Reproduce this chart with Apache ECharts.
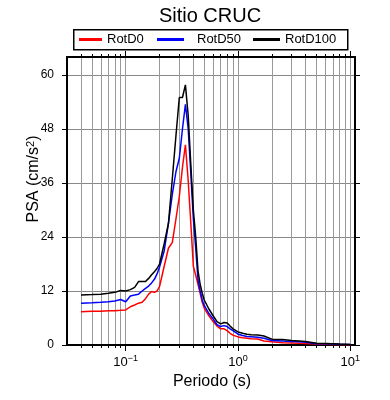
<!DOCTYPE html>
<html>
<head>
<meta charset="utf-8">
<script src="https://cdn.jsdelivr.net/npm/echarts@6/dist/echarts.min.js"></script>
<style>
html,body{margin:0;padding:0;background:#fff;}
#chart{width:390px;height:400px;}
</style>
</head>
<body>
<div id="chart"></div>
<script>
// Periods (s)
const periods = [0.04,0.05,0.06,0.07,0.08,0.09,0.1,0.11,0.12,0.13,0.14,0.15,0.16,0.17,0.18,0.19,0.2,0.22,0.24,0.26,0.28,0.30,0.32,0.34,0.36,0.38,0.40,0.42,0.44,0.46,0.48,0.5,0.55,0.6,0.65,0.7,0.75,0.8,0.85,0.9,1.0,1.1,1.2,1.3,1.5,1.7,2.0,2.5,3.0,3.5,4.0,5.0,6.0,7.0,8.0,10];
// PSA values (cm/s^2)
const rotD0 = [7.4,7.5,7.5,7.6,7.6,7.7,7.8,8.5,8.9,9.3,9.5,10.3,11.3,11.9,11.7,12.0,13.0,17.5,21.5,22.8,28,33,39.5,44.5,36.5,27,17.5,15.5,13.5,11.5,9.5,8.2,6.5,5.2,4.2,3.6,3.6,3.2,2.6,2.2,1.8,1.6,1.5,1.4,1.35,0.9,0.7,0.5,0.45,0.4,0.35,0.2,0.15,0.12,0.1,0.05];
const rotD50 = [9.3,9.4,9.5,9.6,9.8,10.1,9.6,10.9,11.1,11.3,12.0,12.6,13.1,13.8,14.6,15.8,17.3,20.9,27,33.5,38.5,41.5,48.0,53.5,48,38,28,21.5,14.5,12.0,10.0,8.8,7.0,5.8,4.5,4.1,4.3,4.1,3.6,3.2,2.4,2.1,1.9,1.85,1.7,1.5,1.0,0.9,0.75,0.7,0.6,0.3,0.25,0.2,0.15,0.1];
const rotD100 = [11.1,11.2,11.3,11.5,11.7,12.1,12.0,12.3,12.8,14.1,14.1,14.1,14.8,15.6,16.3,17.0,18.0,22.5,27.0,37,46.5,55,55.0,57.8,51,40,30,24,16.5,13.5,11.5,10,8.0,6.5,5.2,4.7,5.0,4.9,4.2,3.6,2.9,2.6,2.4,2.3,2.2,2.0,1.3,1.2,1.0,0.9,0.8,0.4,0.35,0.3,0.2,0.1];
// Axis ticks
const xMajorTicks = [0.1, 1, 10];
const xMinorTicks = [0.04,0.05,0.06,0.07,0.08,0.09,0.1,0.2,0.3,0.4,0.5,0.6,0.7,0.8,0.9,1,2,3,4,5,6,7,8,9,10];
const yTicks = [0, 12, 24, 36, 48, 60];

const FONT = '"Liberation Sans", Arial, Helvetica, sans-serif';
const chart = echarts.init(document.getElementById('chart'), null, {renderer: 'canvas'});

function pair(a) { return periods.map((p, i) => [p, a[i]]); }
function xAxisBase(pos) {
  return {type: 'log', logBase: 10, min: 0.03, max: 11, position: pos, gridIndex: 0};
}
const supMap = {'-1': '\u22121', '0': '0', '1': '1'};

const option = {
  animation: false,
  backgroundColor: '#fff',
  grid: {left: 67, top: 57, width: 288, height: 288, containLabel: false},
  legend: [
    {data: ['RotD0'], left: 79, top: 33, padding: 0, icon: 'rect', itemWidth: 23, itemHeight: 3,
     textStyle: {fontSize: 13, fontFamily: FONT, color: '#000'}},
    {data: ['RotD50'], left: 157, top: 33, padding: 0, icon: 'rect', itemWidth: 27, itemHeight: 3,
     textStyle: {fontSize: 13, fontFamily: FONT, color: '#000', padding: [0,0,0,8]}},
    {data: ['RotD100'], left: 253, top: 33, padding: 0, icon: 'rect', itemWidth: 27, itemHeight: 3,
     textStyle: {fontSize: 13, fontFamily: FONT, color: '#000'}}
  ],
  xAxis: [
    Object.assign(xAxisBase('bottom'), {
      axisLine: {show: true, lineStyle: {color: '#000', width: 2}},
      axisTick: {show: true, inside: false, length: 6, lineStyle: {color: '#000', width: 1}, customValues: xMajorTicks},
      axisLabel: {show: true, margin: 9, customValues: xMajorTicks,
        formatter: function (v) { const e = Math.round(Math.log10(v)); return '{b|10}{s|' + supMap[String(e)] + '}'; },
        rich: {b: {fontSize: 13, fontFamily: FONT, color: '#000'}, s: {fontSize: 9, fontFamily: FONT, color: '#000', verticalAlign: 'top', padding: [0,0,8,0]}}},
      splitLine: {show: false}
    }),
    Object.assign(xAxisBase('bottom'), {
      axisLine: {show: false},
      axisTick: {show: true, inside: false, length: 3, lineStyle: {color: '#000', width: 1}, customValues: xMinorTicks},
      axisLabel: {show: false},
      splitLine: {show: true, lineStyle: {color: '#999', width: 1}}
    }),
    Object.assign(xAxisBase('top'), {
      axisLine: {show: true, lineStyle: {color: '#000', width: 2}},
      axisTick: {show: true, inside: false, length: 6, lineStyle: {color: '#000', width: 1}, customValues: xMajorTicks},
      axisLabel: {show: false},
      splitLine: {show: false}
    }),
    Object.assign(xAxisBase('top'), {
      axisLine: {show: false},
      axisTick: {show: true, inside: false, length: 3, lineStyle: {color: '#000', width: 1}, customValues: xMinorTicks},
      axisLabel: {show: false},
      splitLine: {show: false}
    })
  ],
  yAxis: [
    {type: 'value', min: 0, max: 64, position: 'left',
     axisLine: {show: true, lineStyle: {color: '#000', width: 2}},
     axisTick: {show: true, inside: false, length: 5, lineStyle: {color: '#000'}, customValues: yTicks},
     axisLabel: {show: true, margin: 13, customValues: yTicks, fontSize: 12, fontFamily: FONT, color: '#000'},
     splitLine: {show: true, lineStyle: {color: '#888', width: 1}}},
    {type: 'value', min: 0, max: 64, position: 'right',
     axisLine: {show: true, lineStyle: {color: '#000', width: 2}},
     axisTick: {show: true, inside: false, length: 5, lineStyle: {color: '#000'}, customValues: yTicks},
     axisLabel: {show: false},
     splitLine: {show: false}}
  ],
  series: [
    {name: 'RotD0', type: 'line', data: pair(rotD0), showSymbol: false, symbol: 'none', color: '#ff0000',
     lineStyle: {color: '#ff0000', width: 1.5}, z: 3},
    {name: 'RotD50', type: 'line', data: pair(rotD50), showSymbol: false, symbol: 'none', color: '#0000ff',
     lineStyle: {color: '#0000ff', width: 1.5}, z: 4},
    {name: 'RotD100', type: 'line', data: pair(rotD100), showSymbol: false, symbol: 'none', color: '#000000',
     lineStyle: {color: '#000000', width: 1.5}, z: 5}
  ],
  graphic: [
    {type: 'rect', left: 73, top: 29, z: -1, shape: {width: 274, height: 20},
     style: {fill: '#fff', stroke: '#000', lineWidth: 1.5}},
    {type: 'text', x: 210, y: 16, style: {text: 'Sitio CRUC', fontSize: 20, fontFamily: FONT, fill: '#000', align: 'center', verticalAlign: 'middle'}},
    {type: 'text', x: 212, y: 382, style: {text: 'Periodo (s)', fontSize: 16, fontFamily: FONT, fill: '#000', align: 'center', verticalAlign: 'middle'}},
    {type: 'text', x: 34, y: 179, rotation: Math.PI / 2,
     style: {text: '{n|PSA (cm/s}{s|2}{n|)}', align: 'center', verticalAlign: 'middle',
       rich: {n: {fontSize: 16, fontFamily: FONT, fill: '#000'}, s: {fontSize: 11, fontFamily: FONT, fill: '#000', verticalAlign: 'top', padding: [0,0,7,0]}}}}
  ]
};
chart.setOption(option);
</script>
</body>
</html>
